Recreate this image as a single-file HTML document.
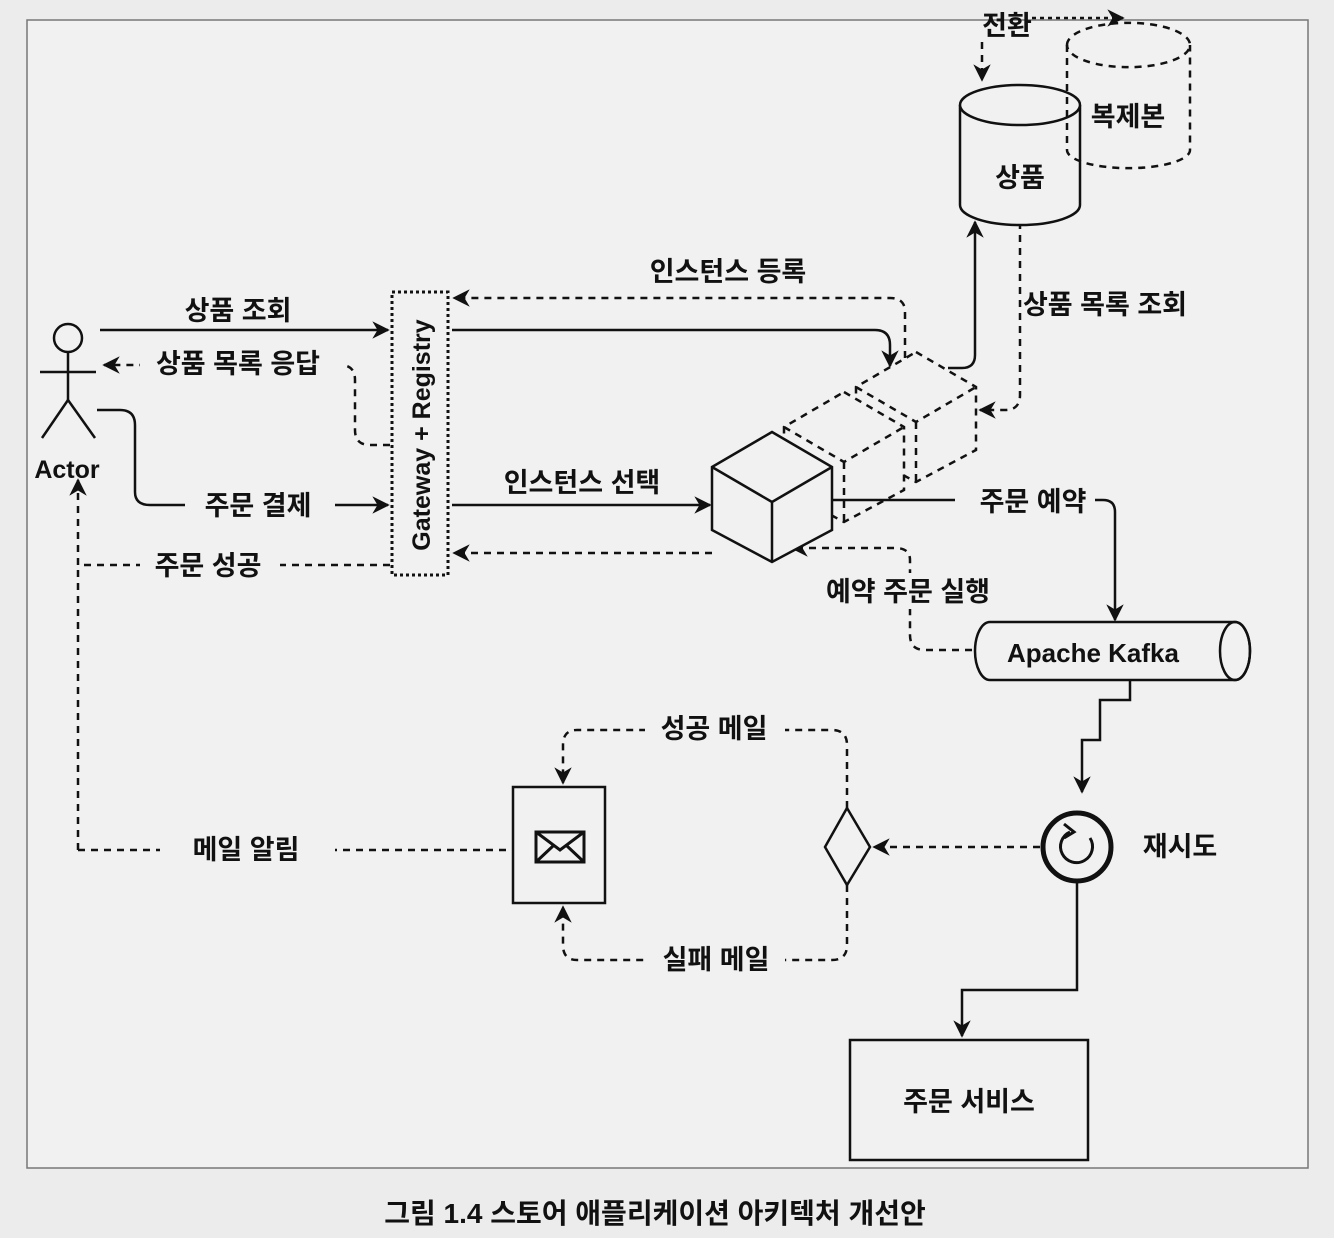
<!DOCTYPE html>
<html><head><meta charset="utf-8"><style>
html,body{margin:0;padding:0;background:#ececec;}
svg{display:block}
text{font-family:"Liberation Sans","Noto Sans CJK KR",sans-serif;fill:#111;font-weight:700}
</style></head><body>
<svg width="1334" height="1238" viewBox="0 0 1334 1238" xmlns="http://www.w3.org/2000/svg">
<defs>
<marker id="a" viewBox="0 0 10 10" refX="9" refY="5" markerWidth="7" markerHeight="7" orient="auto-start-reverse"><path d="M0,0 L10,5 L0,10 L3,5z" fill="#111"/></marker>
</defs>
<rect x="0" y="0" width="1334" height="1238" fill="#ececec"/>
<rect x="27" y="20" width="1281" height="1148" fill="#f1f1f1" stroke="#777" stroke-width="1.5"/>
<g fill="none" stroke="#111" stroke-width="2.5">
<circle cx="68" cy="338" r="14"/>
<line x1="68" y1="352" x2="68" y2="400"/>
<line x1="40" y1="372" x2="96" y2="372"/>
<line x1="68" y1="400" x2="42" y2="438"/>
<line x1="68" y1="400" x2="95" y2="438"/>
<rect x="392" y="292" width="56" height="283" stroke-dasharray="3 3" stroke-width="3"/>
<line x1="100" y1="330" x2="388" y2="330" marker-end="url(#a)"/>
<path d="M390,445 H370 Q355,445 355,430 V380 Q355,365 340,365 H104" stroke-dasharray="7 6" marker-end="url(#a)"/>
<path d="M97,410 H120 Q135,410 135,425 V492 Q135,505 150,505 H388" marker-end="url(#a)"/>
<path d="M390,565 H78" stroke-dasharray="7 6"/>
<path d="M78,565 V480" stroke-dasharray="7 6" marker-end="url(#a)"/>
<path d="M78,850 V565" stroke-dasharray="7 6"/>
<path d="M78,850 H165" stroke-dasharray="7 6"/>
<path d="M330,850 H513" stroke-dasharray="7 6"/>
<path d="M905,358 V312 Q905,298 890,298 H454" stroke-dasharray="7 6" marker-end="url(#a)"/>
<path d="M452,330 H875 Q890,330 890,345 V366" marker-end="url(#a)"/>
<line x1="452" y1="505" x2="710" y2="505" marker-end="url(#a)"/>
<line x1="712" y1="553" x2="454" y2="553" stroke-dasharray="7 6" marker-end="url(#a)"/>
<path d="M985,650 H925 Q910,650 910,635 V560 Q910,548 895,548 H792" stroke-dasharray="7 6" marker-end="url(#a)"/>
<g stroke-dasharray="7 6">
<path fill="#f1f1f1" stroke="none" d="M916,352 L976,387 L976,450 L916,482 L856,450 L856,387Z"/>
<path d="M916,352 L976,387 L976,450 L916,482 L856,450 L856,387Z M856,387 L916,422 L976,387 M916,422 V482"/>
<path fill="#f1f1f1" stroke="none" d="M844,392 L904,427 L904,490 L844,522 L784,490 L784,427Z"/>
<path d="M844,392 L904,427 L904,490 L844,522 L784,490 L784,427Z M784,427 L844,462 L904,427 M844,462 V522"/>
</g>
<path fill="#f1f1f1" stroke="none" d="M772,432 L832,467 L832,530 L772,562 L712,530 L712,467Z"/>
<path d="M772,432 L832,467 L832,530 L772,562 L712,530 L712,467Z M712,467 L772,502 L832,467 M772,502 V562"/>
<path d="M948,368 H962 Q975,368 975,355 V222" marker-end="url(#a)"/>
<path d="M1020,222 V395 Q1020,410 1005,410 H980" stroke-dasharray="7 6" marker-end="url(#a)"/>
<line x1="832" y1="500" x2="955" y2="500"/>
<path d="M1095,500 H1103 Q1115,500 1115,512 V620" marker-end="url(#a)"/>
<path d="M960,105 V205 A60,20 0 0 0 1080,205 V105" fill="#f1f1f1"/>
<ellipse cx="1020" cy="105" rx="60" ry="20" fill="#f1f1f1"/>
<path d="M1067,45 V150 A61,18 0 0 0 1190,150 V45" stroke-dasharray="7 6"/>
<path d="M1067,45 A61,22 0 0 1 1190,45 A61,22 0 0 1 1067,45" stroke-dasharray="7 6"/>
<path d="M1032,18 H1123" stroke-dasharray="4 4" marker-end="url(#a)"/>
<path d="M982,42 V80" stroke-dasharray="7 6" marker-end="url(#a)"/>
<path d="M990,622 H1235 A15,29 0 0 1 1235,680 H990 A15,29 0 0 1 990,622Z" fill="#f1f1f1"/>
<ellipse cx="1235" cy="651" rx="15" ry="29"/>
<path d="M1130,680 V700 H1100 V740 H1082 V792" marker-end="url(#a)"/>
<circle cx="1077" cy="847" r="34" stroke-width="5"/>
<path d="M1090,838 A16,16 0 1 1 1070,832" stroke-width="3"/>
<path d="M1064,824 L1074,832 L1064,838" stroke-width="3"/>
<line x1="1040" y1="847" x2="874" y2="847" stroke-dasharray="7 6" marker-end="url(#a)"/>
<path d="M1077,881 V990 H962 V1036" marker-end="url(#a)"/>
<path d="M847,808 L870,847 L847,885 L825,847Z"/>
<path d="M847,808 V745 Q847,730 832,730 H577 Q563,730 563,745 V783" stroke-dasharray="7 6" marker-end="url(#a)"/>
<path d="M847,885 V945 Q847,960 832,960 H577 Q563,960 563,945 V907" stroke-dasharray="7 6" marker-end="url(#a)"/>
<rect x="513" y="787" width="92" height="116" fill="#f1f1f1"/>
<rect x="536" y="832" width="48" height="30" stroke-width="3"/>
<path d="M536,832 L560,850 L584,832 M536,862 L553,846 M584,862 L567,846" stroke-width="3"/>
<rect x="850" y="1040" width="238" height="120"/>
</g>
<g fill="#f1f1f1">
<rect x="140" y="346" width="205" height="34"/>
<rect x="185" y="488" width="150" height="34"/>
<rect x="140" y="548" width="140" height="34"/>
<rect x="810" y="573" width="200" height="36"/>
<rect x="645" y="711" width="140" height="34"/>
<rect x="645" y="942" width="140" height="34"/>
<rect x="160" y="833" width="175" height="34"/>
</g>
<g font-size="27" text-anchor="middle">
<text x="238" y="320">상품 조회</text>
<text x="238" y="373">상품 목록 응답</text>
<text x="258" y="515">주문 결제</text>
<text x="208" y="575">주문 성공</text>
<text x="67" y="478" font-size="25">Actor</text>
<text x="728" y="281">인스턴스 등록</text>
<text x="582" y="492">인스턴스 선택</text>
<text x="1033" y="511">주문 예약</text>
<text x="908" y="601">예약 주문 실행</text>
<text x="1105" y="314">상품 목록 조회</text>
<text x="1020" y="187">상품</text>
<text x="1128" y="126">복제본</text>
<text x="1007" y="35">전환</text>
<text x="1093" y="662" font-size="26">Apache Kafka</text>
<text x="1180" y="856">재시도</text>
<text x="714" y="738">성공 메일</text>
<text x="716" y="969">실패 메일</text>
<text x="246" y="859">메일 알림</text>
<text x="969" y="1111">주문 서비스</text>
<text transform="translate(430,435) rotate(-90)" font-size="25">Gateway + Registry</text>
<text x="655" y="1223" font-size="28">그림 1.4 스토어 애플리케이션 아키텍처 개선안</text>
</g>
</svg>
</body></html>
